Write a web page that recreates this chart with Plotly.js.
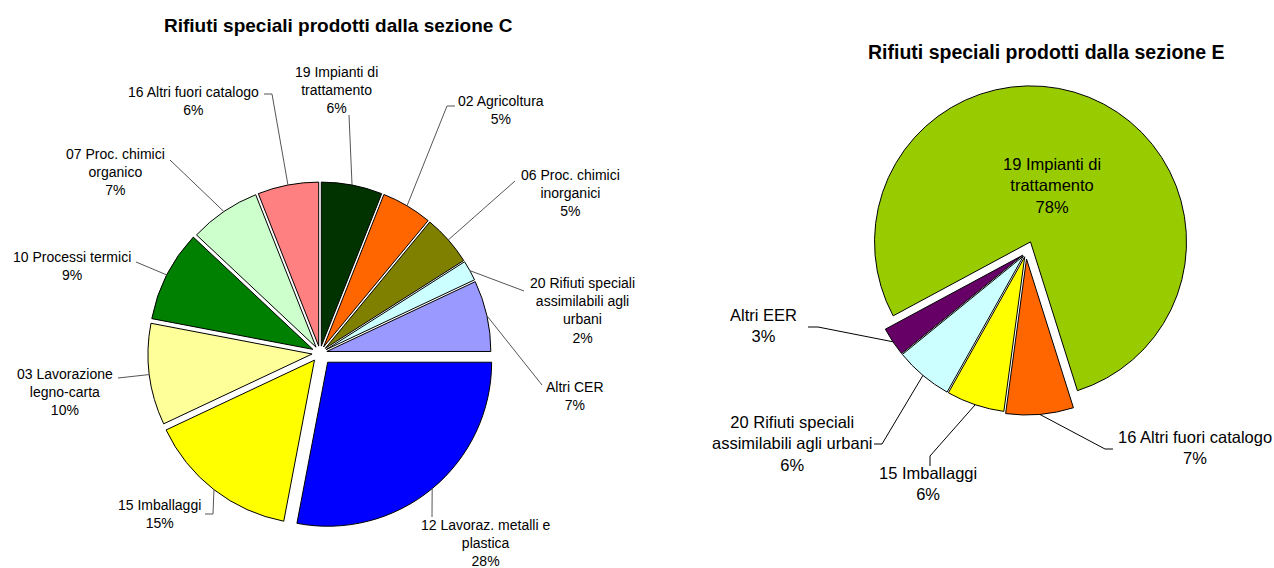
<!DOCTYPE html>
<html>
<head>
<meta charset="utf-8">
<script src="https://cdn.plot.ly/plotly-3.0.1.min.js"></script>
<style>
  html, body { margin: 0; padding: 0; background: #fff; }
  #chart { width: 1274px; height: 568px; }
</style>
</head>
<body>
<div id="chart"></div>
<script>
// --- data: sezione C ---
const labelsC = ['12 Lavoraz. metalli e<br>plastica', '15 Imballaggi', '03 Lavorazione<br>legno-carta',
    '10 Processi termici', '07 Proc. chimici<br>organico', '16 Altri fuori catalogo',
    '19 Impianti di<br>trattamento', '02 Agricoltura', '06 Proc. chimici<br>inorganici',
    '20 Rifiuti speciali<br>assimilabili agli<br>urbani', 'Altri CER'];
const valuesC = [28, 15, 10, 9, 7, 6, 6, 5, 5, 2, 7];
const colorsC = ['#0000ff', '#ffff00', '#ffff99', '#008000', '#ccffcc', '#ff8080',
    '#003300', '#ff6600', '#808000', '#ccffff', '#9999ff'];

// --- data: sezione E ---
const labelsE = ['19 Impianti di<br>trattamento', '16 Altri fuori catalogo', '15 Imballaggi',
    '20 Rifiuti speciali<br>assimilabili agli urbani', 'Altri EER'];
const valuesE = [78, 7, 6, 6, 3];
const colorsE = ['#99cc00', '#ff6600', '#ffff00', '#ccffff', '#660066'];

const titleC = 'Rifiuti speciali prodotti dalla sezione C';
const titleE = 'Rifiuti speciali prodotti dalla sezione E';

// --- layout geometry (pixels) ---
const W = 1274, H = 568;
const FONT = '"Liberation Sans", Arial, sans-serif';

const pieC = { cx: 320, cy: 353, r: 164, rot: 90, pullPx: [12, 9, 8, 8, 7, 7, 7, 7, 7, 7, 7], fs: 14 };
const pieE = { cx: 1026, cy: 253, r: 156, rot: -118.3, pullPx: [12, 6, 4, 4, 4], fs: 16.5 };

// label centres and leader start/elbow points
const labPosC = [[485, 543], [159, 514], [65, 392], [72, 266], [115, 172], [193, 101],
    [336, 90], [501, 110], [570, 193], [582, 310], [575, 396]];
const leadC = [
    [[432, 517]],
    [[205, 514], [213, 514]],
    [[118, 378]],
    [[136, 262]],
    [[170, 160]],
    [[264, 94], [272, 94]],
    [[349, 115]],
    [[455, 106], [447, 106]],
    [[515, 181]],
    [[524, 291]],
    [[542, 385]]
];
const labPosE = [[1052, 185], [1195, 447], [928, 483], [792, 443], [763, 325]];
const leadE = [
    null,
    [[1113, 449], [1105, 449]],
    [[930, 466], [930, 456]],
    [[874, 444], [882, 444]],
    [[808, 327], [818, 327]]
];

const px = x => x / W;
const py = y => 1 - y / H;

function domainOf(p) {
    const maxPull = Math.max(...p.pullPx) / p.r;
    const half = p.r * (1 + maxPull);
    return { x: [px(p.cx - half), px(p.cx + half)], y: [py(p.cy + half), py(p.cy - half)] };
}

// outer edge point at each slice's mid angle (clockwise from 12 o'clock)
function edgePoints(p, values) {
    const total = values.reduce((a, b) => a + b, 0);
    let a0 = p.rot;
    return values.map((v, i) => {
        const mid = (a0 + v / total * 180) * Math.PI / 180;
        a0 += v / total * 360;
        const d = p.r + p.pullPx[i];
        return [p.cx + d * Math.sin(mid), p.cy - d * Math.cos(mid)];
    });
}

function pieTrace(p, labels, values, colors) {
    return {
        type: 'pie',
        labels: labels,
        values: values,
        sort: false,
        direction: 'clockwise',
        rotation: p.rot,
        pull: p.pullPx.map(v => v / p.r),
        domain: domainOf(p),
        marker: { colors: colors, line: { color: '#000000', width: 1 } },
        textinfo: 'none',
        hoverinfo: 'label+percent',
        showlegend: false
    };
}

const annotations = [], shapes = [];

function addLabels(p, labels, values, pos, leads, lineColor) {
    const edges = edgePoints(p, values);
    labels.forEach((lab, i) => {
        annotations.push({
            xref: 'paper', yref: 'paper',
            x: px(pos[i][0]), y: py(pos[i][1]),
            xanchor: 'center', yanchor: 'middle',
            text: lab + '<br>' + values[i] + '%',
            showarrow: false,
            align: 'center',
            font: { family: FONT, size: p.fs, color: '#000' }
        });
        if (!leads[i]) return;
        const pts = leads[i].concat([edges[i]]);
        const path = pts.map((q, k) => (k ? 'L' : 'M') + px(q[0]) + ',' + py(q[1])).join(' ');
        shapes.push({
            type: 'path', xref: 'paper', yref: 'paper', path: path,
            line: { color: lineColor, width: 1 }
        });
    });
}

addLabels(pieC, labelsC, valuesC, labPosC, leadC, '#555555');
addLabels(pieE, labelsE, valuesE, labPosE, leadE, '#000000');

annotations.push(
    { xref: 'paper', yref: 'paper', x: px(338), y: py(25), xanchor: 'center', yanchor: 'middle',
      text: '<b>' + titleC + '</b>', showarrow: false, font: { family: FONT, size: 19, color: '#000' } },
    { xref: 'paper', yref: 'paper', x: px(1046), y: py(52), xanchor: 'center', yanchor: 'middle',
      text: '<b>' + titleE + '</b>', showarrow: false, font: { family: FONT, size: 19.5, color: '#000' } }
);

const layout = {
    width: W,
    height: H,
    margin: { l: 0, r: 0, t: 0, b: 0 },
    paper_bgcolor: '#ffffff',
    plot_bgcolor: '#ffffff',
    showlegend: false,
    annotations: annotations,
    shapes: shapes
};

Plotly.newPlot('chart', [pieTrace(pieC, labelsC, valuesC, colorsC), pieTrace(pieE, labelsE, valuesE, colorsE)],
    layout, { displayModeBar: false, staticPlot: true });
</script>
</body>
</html>
